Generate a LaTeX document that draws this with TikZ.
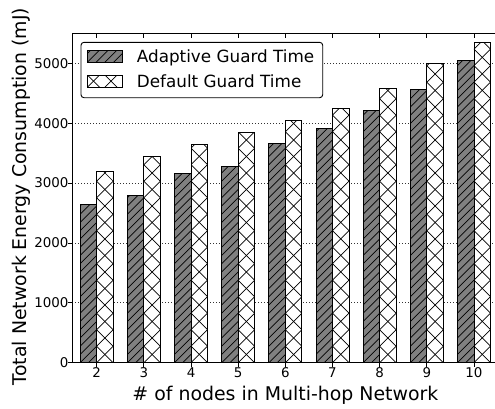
\documentclass[tikz,border=0pt]{standalone}
\usepackage{fontspec}
\setmainfont{DejaVu Sans}
\begin{document}
\begin{tikzpicture}[x=1pt,y=-1pt,
  spine/.style={line width=1pt, black},
  gridln/.style={black!80, line width=0.7pt, dash pattern=on 1pt off 2pt},
  baredge/.style={draw=black, line width=0.9pt},
  hatchln/.style={black, line width=0.7pt},
  tickln/.style={black, line width=0.9pt},
  ticklbl/.style={font=\fontsize{13.4}{16}\selectfont, inner sep=0pt},
  axlbl/.style={font=\fontsize{18.9}{22}\selectfont, inner sep=0pt},
  leglbl/.style={font=\fontsize{16.8}{20}\selectfont, inner sep=0pt, anchor=base west},
]
\clip (0,0) rectangle (495,408);
\fill[white] (0,0) rectangle (495,408);
\def\bw{16.5}
\def\yb{362.7}
% grid
\foreach \v in {1000,2000,3000,4000,5000}
  \draw[gridln] (72,{\yb-\v*0.05988}) -- (499,{\yb-\v*0.05988});
% bars
\foreach \n/\a/\d in {2/2650/3200, 3/2790/3450, 4/3160/3650, 5/3285/3850, 6/3665/4045, 7/3915/4250, 8/4220/4585, 9/4565/4990, 10/5050/5350} {
  \pgfmathsetmacro\xc{96.7+(\n-2)*47.16}
  \pgfmathsetmacro\ya{\yb-\a*0.05988}
  \pgfmathsetmacro\yd{\yb-\d*0.05988}
  % adaptive
  \fill[gray] ({\xc-\bw},\ya) rectangle (\xc,\yb);
  \begin{scope}
    \clip ({\xc-\bw},\ya) rectangle (\xc,\yb);
    \foreach \k in {-2,...,40}
      \draw[hatchln] ({\xc-\bw},{\yb-\k*\bw/2}) -- (\xc,{\yb-\k*\bw/2-\bw});
  \end{scope}
  \draw[baredge] ({\xc-\bw},\ya) rectangle (\xc,\yb);
  % default
  \fill[white] (\xc,\yd) rectangle ({\xc+\bw},\yb);
  \begin{scope}
    \clip (\xc,\yd) rectangle ({\xc+\bw},\yb);
    \foreach \k in {0,...,21} {
      \draw[hatchln] (\xc,{\yb-\k*\bw}) -- ({\xc+\bw},{\yb-(\k+1)*\bw});
      \draw[hatchln] (\xc,{\yb-(\k+1)*\bw}) -- ({\xc+\bw},{\yb-\k*\bw});
    }
  \end{scope}
  \draw[baredge] (\xc,\yd) rectangle ({\xc+\bw},\yb);
  % ticks and labels
  \draw[tickln] (\xc,33) -- (\xc,37.5);
  \draw[tickln] (\xc,\yb) -- (\xc,366.5);
  \node[ticklbl, anchor=base] (xt\n) at (\xc,377.8) {\n};
}
% spines
\draw[spine] (72,33) rectangle (498.7,\yb);
% y ticks
\foreach \v in {0,1000,2000,3000,4000,5000} {
  \draw[tickln] (68.3,{\yb-\v*0.05988}) -- (72,{\yb-\v*0.05988});
  \node[ticklbl, anchor=east] (yt\v) at (68.6,{\yb-\v*0.05988}) {\v};
}
% legend
\draw[black, line width=0.9pt, rounded corners=3pt, fill=white] (81,42.3) rectangle (322.7,97.7);
\fill[gray] (87.3,50) rectangle (122.3,62.3);
\begin{scope}
  \clip (87.3,50) rectangle (122.3,62.3);
  \foreach \k in {-2,...,4}
    \draw[hatchln] ({87.3+\k*8.75},62.3) -- ({87.3+\k*8.75+12.3},50);
\end{scope}
\draw[baredge] (87.3,50) rectangle (122.3,62.3);
\fill[white] (87.3,75) rectangle (122.3,87.3);
\begin{scope}
  \clip (87.3,75) rectangle (122.3,87.3);
  \foreach \k in {-1,...,2} {
    \draw[hatchln] ({87.3+\k*17.5},87.3) -- ({87.3+\k*17.5+12.3},75);
    \draw[hatchln] ({87.3+\k*17.5},75) -- ({87.3+\k*17.5+12.3},87.3);
  }
\end{scope}
\draw[baredge] (87.3,75) rectangle (122.3,87.3);
\node[leglbl] (lega) at (136.7,62.5) {Adaptive Guard Time};
\node[leglbl] (legd) at (136.7,87.3) {Default Guard Time};
% axis labels
\node[axlbl, anchor=base] (xlabel) at (285.4,400.7) {\# of nodes in Multi-hop Network};
\node[axlbl, anchor=base, rotate=90] (ylabel) at (26.7,196.5) {Total Network Energy Consumption (mJ)};
\end{tikzpicture}
\end{document}
